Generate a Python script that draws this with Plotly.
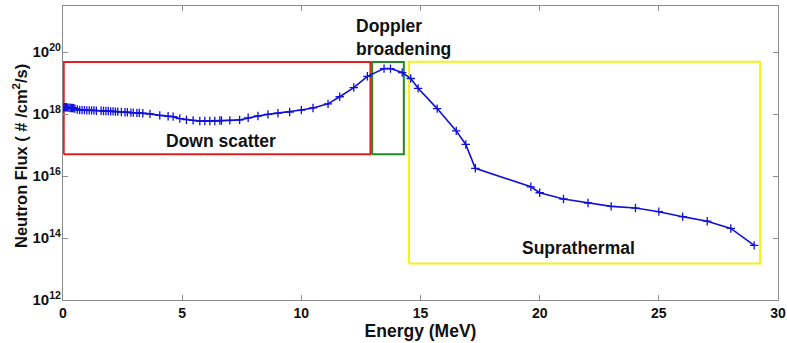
import math
import plotly.graph_objects as go

# Neutron energy (MeV) and flux (#/cm^2/s)
energy = [
    0.00, 0.05, 0.10, 0.15, 0.20, 0.25, 0.30, 0.35, 0.40, 0.45, 0.50, 0.60,
    0.70, 0.80, 0.90, 1.00, 1.10, 1.20, 1.30, 1.40, 1.60, 1.70, 1.80, 1.90,
    2.00, 2.10, 2.20, 2.30, 2.45, 2.60, 2.70, 2.85, 2.95, 3.10, 3.20, 3.35,
    3.65, 4.06, 4.41, 4.62, 4.90, 5.18, 5.46, 5.74, 5.95, 6.16, 6.37, 6.58,
    6.65, 7.00, 7.41, 7.77, 8.18, 8.60, 9.02, 9.51, 10.00, 10.49, 11.12,
    11.61, 12.20, 12.77, 13.47, 13.74, 14.23, 14.59, 14.90, 15.70, 16.50,
    16.90, 17.30, 19.63, 20.00, 21.00, 22.03, 23.00, 24.02, 25.00, 26.00,
    27.03, 28.02, 29.00,
]
flux = [
    1.66e18, 1.66e18, 1.66e18, 1.66e18, 1.62e18, 1.62e18, 1.58e18, 1.58e18,
    1.58e18, 1.55e18, 1.51e18, 1.41e18, 1.35e18, 1.35e18, 1.35e18, 1.32e18,
    1.32e18, 1.32e18, 1.32e18, 1.29e18, 1.29e18, 1.26e18, 1.26e18, 1.26e18,
    1.23e18, 1.23e18, 1.20e18, 1.20e18, 1.17e18, 1.15e18, 1.15e18, 1.12e18,
    1.12e18, 1.10e18, 1.10e18, 1.07e18, 1.02e18, 9.1e17, 8.5e17, 8.3e17,
    7.2e17, 6.6e17, 6.3e17, 6.0e17, 6.0e17, 6.0e17, 6.0e17, 6.2e17,
    6.2e17, 6.3e17, 6.5e17, 7.6e17, 8.7e17, 9.8e17, 1.07e18, 1.17e18,
    1.35e18, 1.58e18, 2.14e18, 3.63e18, 7.2e18, 1.66e19, 2.95e19, 2.95e19,
    2.19e19, 1.41e19, 6.8e18, 1.51e18, 2.88e17, 1.05e17, 1.78e16, 4.5e15,
    2.9e15, 1.82e15, 1.35e15, 1.05e15, 9.3e14, 7.1e14, 4.9e14, 3.5e14,
    2.04e14, 5.8e13,
]

# Spectral regions: (label, E_min, E_max, flux_min, flux_max, colour)
regions = [
    ("Down scatter", 0.03, 12.90, 5.1e16, 4.8e19, "#e02020"),
    ("Doppler broadening", 12.97, 14.30, 5.1e16, 4.8e19, "#1f8a1f"),
    ("Suprathermal", 14.52, 29.25, 1.5e13, 4.9e19, "#f2f21a"),
]

# Text labels: (text, energy, flux, horizontal anchor)
labels = [
    ("Down scatter", 6.62, 1.38e17, "center"),
    ("Doppler<br>broadening", 12.2, 2.9e20, "left"),
    ("Suprathermal", 21.62, 4.9e13, "center"),
]

y_tick_exponents = [12, 14, 16, 18, 20]
x_ticks = [0, 5, 10, 15, 20, 25, 30]

font_family = "Liberation Sans, Arial, sans-serif"

fig = go.Figure()

for name, e0, e1, f0, f1, colour in regions:
    fig.add_trace(go.Scatter(
        x=[e0, e1, e1, e0, e0],
        y=[f0, f0, f1, f1, f0],
        mode="lines",
        line=dict(color=colour, width=2),
        hoverinfo="skip",
        showlegend=False,
        name=name,
    ))

fig.add_trace(go.Scatter(
    x=energy,
    y=flux,
    mode="lines+markers",
    line=dict(color="#1010d8", width=1.6),
    marker=dict(symbol="cross-thin", size=6,
                line=dict(color="#1010d8", width=1.3)),
    showlegend=False,
    name="Neutron flux",
))

for text, e, f, anchor in labels:
    fig.add_annotation(
        x=e, y=math.log10(f), xref="x", yref="y",
        text=f"<b>{text}</b>", showarrow=False,
        xanchor=anchor, yanchor="middle", align="left",
        font=dict(family=font_family, size=17.5, color="#111111"),
    )

# Vertical axis title, set just left of the tick labels
fig.add_annotation(
    x=-0.06, y=0.49, xref="paper", yref="paper",
    text="<b>Neutron Flux ( # /cm<sup>2</sup>/s)</b>", showarrow=False,
    textangle=-90, xanchor="center", yanchor="middle",
    font=dict(family=font_family, size=16.5, color="#111111"),
)

axis_common = dict(
    showgrid=False, zeroline=False, automargin=False,
    showline=True, linecolor="#8c8c8c", linewidth=1.2, mirror="ticks",
    ticks="inside", ticklen=5, tickcolor="#8c8c8c", tickwidth=1,
)

fig.update_xaxes(
    range=[0, 30],
    tickvals=x_ticks,
    ticktext=[str(t) for t in x_ticks],
    tickfont=dict(family=font_family, size=14, color="#111111", weight="bold"),
    title=dict(text="Energy (MeV)", standoff=2,
               font=dict(family=font_family, size=17.5, color="#111111",
                         weight="bold")),
    **axis_common,
)
fig.update_yaxes(
    type="log",
    range=[12, 21.49],
    tickvals=[10.0 ** k for k in y_tick_exponents],
    ticktext=[f"10<sup>{k}</sup>" for k in y_tick_exponents],
    tickfont=dict(family=font_family, size=15, color="#111111", weight="bold"),
    ticklabelstandoff=-2,
    **axis_common,
)

fig.update_layout(
    width=787, height=343,
    margin=dict(l=63, r=9, t=6, b=43),
    paper_bgcolor="white", plot_bgcolor="white",
)

fig.write_html("out.html")
